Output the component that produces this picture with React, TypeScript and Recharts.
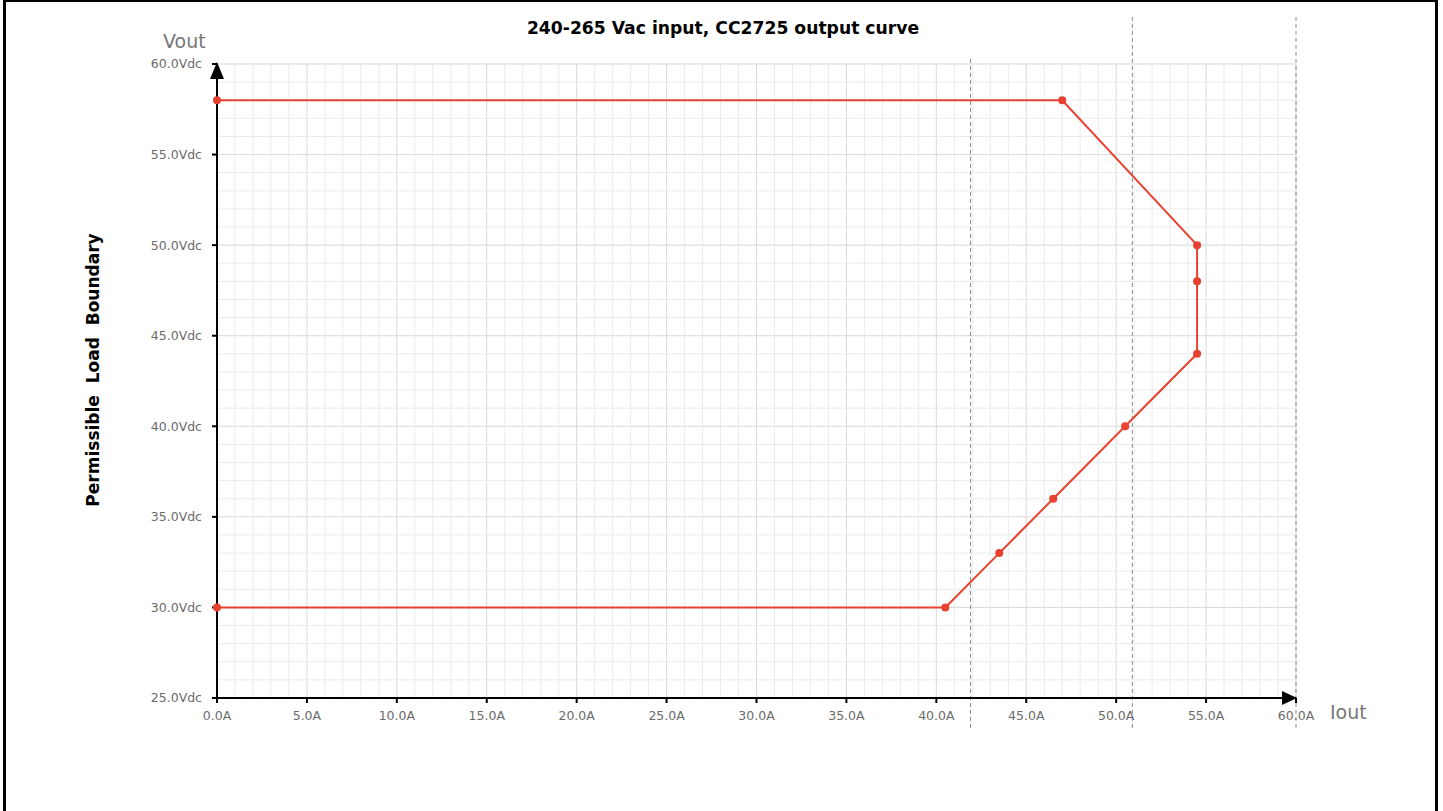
import React from 'react';
import {
  LineChart,
  Line,
  XAxis,
  YAxis,
  CartesianGrid,
  ReferenceLine,
  ReferenceDot,
} from 'recharts';

// Boundary curve: output current (A) vs output voltage (Vdc)
const IOUT = [0, 47, 54.5, 54.5, 54.5, 50.5, 46.5, 43.5, 40.5, 0];
const VOUT = [58, 58, 50, 48, 44, 40, 36, 33, 30, 30];

const X_TICKS = [0, 5, 10, 15, 20, 25, 30, 35, 40, 45, 50, 55, 60];
const Y_TICKS = [25, 30, 35, 40, 45, 50, 55, 60];
// minor grid every 1A / 1V
const X_MINOR = Array.from({ length: 61 }, (_, i) => i).filter((v) => v % 5 !== 0);
const Y_MINOR = Array.from({ length: 36 }, (_, i) => 25 + i).filter((v) => v % 5 !== 0);

// dashed vertical markers: x position and top end (in Vdc)
const MARKER_X = [41.9, 50.9, 60];
const MARKER_TOP = [60.35, 62.75, 62.75];
const MARKER_BOTTOM = 23.35;

const data = IOUT.map((i, k) => ({ i, v: VOUT[k] }));

const RED = '#e8412f';
const TICK_STYLE = { fill: '#6b6b6b', fontSize: 12.5, fontFamily: 'DejaVu Sans' };

const upArrow = (p: any) => (
  <path d={`M${p.cx},${p.cy - 2} L${p.cx - 7},${p.cy + 15} L${p.cx + 7},${p.cy + 15} Z`} fill="#000" />
);
const rightArrow = (p: any) => (
  <path d={`M${p.cx + 1},${p.cy} L${p.cx - 14},${p.cy - 7} L${p.cx - 14},${p.cy + 7} Z`} fill="#000" />
);

export default function App() {
  return (
    <div style={{ position: 'absolute', left: 0, top: 0, width: 1443, height: 811, background: '#fff' }}>
      <div
        style={{
          position: 'absolute',
          left: 3,
          top: 0,
          width: 1435,
          height: 811,
          borderLeft: '3px solid #000',
          borderRight: '3px solid #000',
          borderTop: '2px solid #000',
          boxSizing: 'border-box',
        }}
      />
      <div
        style={{
          position: 'absolute',
          left: 0,
          top: 18,
          width: 1446,
          textAlign: 'center',
          fontFamily: 'DejaVu Sans',
          fontWeight: 700,
          fontSize: 17.2,
          color: '#000',
        }}
      >
        240-265 Vac input, CC2725 output curve
      </div>
      <div
        style={{
          position: 'absolute',
          left: 93,
          top: 370,
          transform: 'translate(-50%, -50%) rotate(-90deg)',
          whiteSpace: 'pre',
          fontFamily: 'DejaVu Sans',
          fontWeight: 700,
          fontSize: 17,
          color: '#000',
        }}
      >
        Permissible  Load  Boundary
      </div>
      <div style={{ position: 'absolute', left: 163, top: 30, fontFamily: 'DejaVu Sans', fontSize: 19, color: '#777' }}>
        Vout
      </div>
      <div style={{ position: 'absolute', left: 1330, top: 701, fontFamily: 'DejaVu Sans', fontSize: 19, color: '#777' }}>
        Iout
      </div>
      <div style={{ position: 'absolute', left: 0, top: 0 }}>
        <LineChart width={1443} height={811} data={data} margin={{ top: 64, right: 147, bottom: 73, left: 157 }}>
          <CartesianGrid stroke="#d9d9d9" strokeWidth={1} />
          {X_MINOR.map((x) => (
            <ReferenceLine key={`mx${x}`} x={x} stroke="#ebebeb" strokeWidth={1} />
          ))}
          {Y_MINOR.map((y) => (
            <ReferenceLine key={`my${y}`} y={y} stroke="#ebebeb" strokeWidth={1} />
          ))}
          <XAxis
            type="number"
            dataKey="i"
            domain={[0, 60]}
            ticks={X_TICKS}
            height={40}
            tickFormatter={(v: number) => `${v.toFixed(1)}A`}
            tick={TICK_STYLE}
            axisLine={{ stroke: '#000', strokeWidth: 2 }}
            tickLine={{ stroke: '#000', strokeWidth: 2 }}
            tickSize={5}
            tickMargin={8}
            interval={0}
          />
          <YAxis
            type="number"
            dataKey="v"
            domain={[25, 60]}
            ticks={Y_TICKS}
            width={60}
            tickFormatter={(v: number) => `${v.toFixed(1)}Vdc`}
            tick={TICK_STYLE}
            axisLine={{ stroke: '#000', strokeWidth: 2 }}
            tickLine={{ stroke: '#000', strokeWidth: 2 }}
            tickSize={5}
            tickMargin={10}
            interval={0}
          />
          {MARKER_X.map((x, k) => (
            <ReferenceLine
              key={x}
              segment={[
                { x, y: MARKER_BOTTOM },
                { x, y: MARKER_TOP[k] },
              ]}
              stroke="#8a8a8a"
              strokeDasharray="4 3"
              strokeWidth={1}
              ifOverflow="visible"
            />
          ))}
          <Line
            type="linear"
            dataKey="v"
            stroke={RED}
            strokeWidth={2}
            dot={{ r: 4, fill: RED, stroke: 'none' }}
            isAnimationActive={false}
          />
          <ReferenceDot x={0} y={60} shape={upArrow} ifOverflow="visible" />
          <ReferenceDot x={60} y={25} shape={rightArrow} ifOverflow="visible" />
        </LineChart>
      </div>
    </div>
  );
}
